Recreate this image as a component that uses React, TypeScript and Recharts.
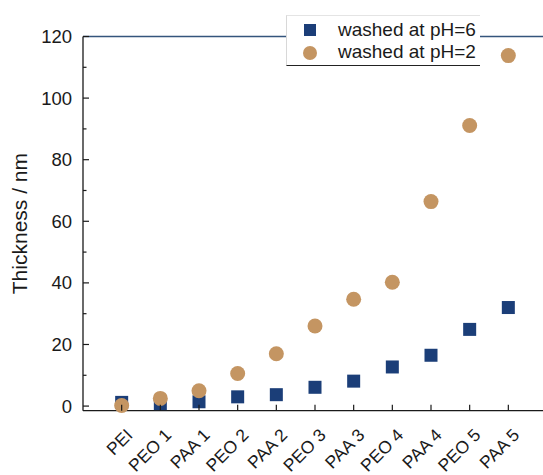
import { ScatterChart, Scatter, XAxis, YAxis, ReferenceLine, Legend } from "recharts";

const layers = ["PEI", "PEO 1", "PAA 1", "PEO 2", "PAA 2", "PEO 3", "PAA 3", "PEO 4", "PAA 4", "PEO 5", "PAA 5"];
const washedPH6 = [1.2, 0.8, 1.4, 3.0, 3.7, 6.1, 8.1, 12.7, 16.5, 24.9, 32.0];
const washedPH2 = [0.2, 2.5, 5.0, 10.6, 17.0, 26.0, 34.7, 40.2, 66.4, 91.1, 113.8];
const layerTicks = [1, 2, 3, 4, 5, 6, 7, 8, 9, 10, 11];
const thicknessTicks = [0, 10, 20, 30, 40, 50, 60, 70, 80, 90, 100, 110, 120];

const NAVY = "#1b3e78";
const TAN = "#c49562";
const INK = "#1a1a1a";
const FONT = '"Liberation Sans", Arial, Helvetica, sans-serif';

const ph6Points = layers.map((name, i) => ({ name, x: i + 1, y: washedPH6[i] }));
const ph2Points = layers.map((name, i) => ({ name, x: i + 1, y: washedPH2[i] }));

function SquareDot(props: any) {
  const { cx, cy } = props;
  return <rect x={cx - 6.5} y={cy - 6.5} width={13} height={13} fill={NAVY} />;
}

function RoundDot(props: any) {
  const { cx, cy } = props;
  return <circle cx={cx} cy={cy} r={7.5} fill={TAN} />;
}

// inward tick + label rotated 45deg below the axis
function LayerTick(props: any) {
  const { x, y, payload } = props;
  const label = layers[payload.value - 1];
  return (
    <g>
      <line x1={x} y1={y} x2={x} y2={y - 6} stroke={INK} strokeWidth={1.2} />
      <text
        x={0}
        y={0}
        transform={`translate(${x + 12},${y + 25.5}) rotate(-45)`}
        textAnchor="end"
        fontSize={17.5}
        fontFamily={FONT}
        fill={INK}
      >
        {label}
      </text>
    </g>
  );
}

// major ticks every 20 with labels, minor ticks in between
function ThicknessTick(props: any) {
  const { x, y, payload } = props;
  const major = payload.value % 20 === 0;
  return (
    <g>
      <line x1={x} y1={y} x2={x + (major ? 6 : 3.5)} y2={y} stroke={INK} strokeWidth={1.2} />
      {major && (
        <text x={x - 11} y={y} dy="0.35em" textAnchor="end" fontSize={18.5} fontFamily={FONT} fill={INK}>
          {payload.value}
        </text>
      )}
    </g>
  );
}

function YTitle(props: any) {
  const { viewBox } = props;
  const cy = viewBox.y + viewBox.height / 2;
  return (
    <text x={0} y={0} transform={`translate(27,${cy}) rotate(-90)`} textAnchor="middle" fontSize={21} fontFamily={FONT} fill={INK}>
      Thickness / nm
    </text>
  );
}

function LegendBox() {
  const row = { display: "flex", alignItems: "center", height: 22 } as const;
  return (
    <div
      style={{
        width: 194,
        height: 51,
        boxSizing: "border-box",
        background: "#fff",
        borderLeft: "1px solid #d8d8d8",
        borderTop: "1px solid #e4e4e4",
        borderBottom: "1px solid #222",
        padding: "3px 0 0 0",
        fontFamily: FONT,
        fontSize: 19,
        color: INK,
      }}
    >
      <div style={row}>
        <svg width={51} height={22}>
          <rect x={17} y={5} width={12} height={12} fill={NAVY} />
        </svg>
        <span>washed at pH=6</span>
      </div>
      <div style={row}>
        <svg width={51} height={22}>
          <circle cx={23} cy={12} r={7} fill={TAN} />
        </svg>
        <span>washed at pH=2</span>
      </div>
    </div>
  );
}

export default function App() {
  return (
    <div style={{ position: "absolute", left: 0, top: 0, width: 543, height: 475, overflow: "hidden", background: "#fff" }}>
      <ScatterChart width={550} height={475} margin={{ top: 36.5, right: 3, left: 23, bottom: 14.3 }}>
        <XAxis
          type="number"
          dataKey="x"
          domain={[0, 12]}
          ticks={layerTicks}
          interval={0}
          height={50}
          tickSize={0}
          tickMargin={0}
          tickLine={false}
          axisLine={{ stroke: INK, strokeWidth: 1.3 }}
          tick={<LayerTick />}
        />
        <YAxis
          type="number"
          dataKey="y"
          domain={[-1.5, 120]}
          ticks={thicknessTicks}
          interval={0}
          width={60}
          tickSize={0}
          tickMargin={0}
          tickLine={false}
          axisLine={{ stroke: INK, strokeWidth: 1.3 }}
          tick={<ThicknessTick />}
          label={<YTitle />}
        />
        <ReferenceLine y={120} stroke="#34557c" strokeWidth={1.3} />
        <Legend
          layout="vertical"
          align="center"
          verticalAlign="middle"
          wrapperStyle={{ left: 286, top: 15, width: 194, height: 51 }}
          content={() => <LegendBox />}
        />
        <Scatter name="washed at pH=6" data={ph6Points} shape={<SquareDot />} isAnimationActive={false} />
        <Scatter name="washed at pH=2" data={ph2Points} shape={<RoundDot />} isAnimationActive={false} />
      </ScatterChart>
    </div>
  );
}
